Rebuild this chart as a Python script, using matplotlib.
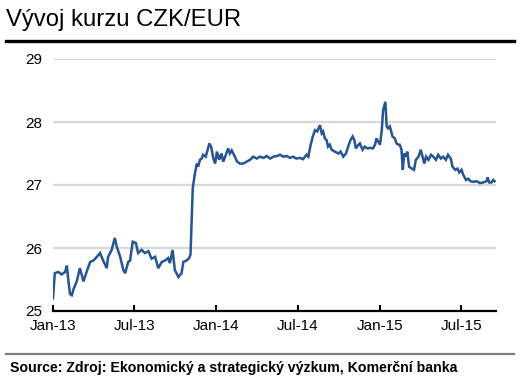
import numpy as np
import pandas as pd
import matplotlib
matplotlib.use("Agg")
import matplotlib.pyplot as plt
import matplotlib.dates as mdates
from matplotlib.lines import Line2D

plt.rcParams['font.family'] = ['Liberation Sans', 'DejaVu Sans']

# Days since 2013-01-01 and CZK/EUR rate
day_offsets = [0, 4, 12, 19, 27, 31, 34, 38, 42, 46, 53, 60, 68, 75, 83, 90, 98, 105,
               112, 120, 123, 131, 138, 142, 150, 157, 161, 168, 172, 178, 185, 190,
               198, 205, 213, 220, 228, 235, 243, 250, 257, 261, 267, 272, 280, 287,
               291, 298, 304, 307,
               312, 317, 321, 324, 328, 332, 335, 341, 349, 353, 358, 362, 366, 371,
               376, 380, 386, 391, 395, 399, 406, 411, 417, 425, 432, 440, 447, 455,
               462, 470, 477, 485, 492, 500, 507, 514, 522,
               529, 536, 543, 551, 558, 566, 570, 575, 580, 585, 590, 596, 600, 603,
               607, 611, 614, 618, 622, 629, 637, 642, 648, 654, 659, 664, 669, 673,
               676, 682, 685, 691, 696, 702, 708, 714, 719, 722, 726, 730, 734, 737,
               742, 745, 748, 752, 758, 763, 767, 771, 774, 778, 781, 784, 788, 791,
               795, 801, 806, 810, 816, 821, 825, 829, 833, 838, 844, 849, 855, 860,
               866, 871, 877, 882, 888, 892, 898, 903, 907, 912, 916, 922, 927, 932,
               938, 946, 953, 960, 968, 970, 974, 979, 983, 986]
rates = [25.20, 25.60, 25.62, 25.58, 25.62, 25.72, 25.50, 25.27, 25.25, 25.35, 25.47,
         25.68, 25.47, 25.62, 25.78, 25.80, 25.86, 25.92, 25.80, 25.68, 25.86, 25.97,
         26.16, 26.03, 25.86, 25.65, 25.60, 25.78, 25.80, 26.10, 26.08, 25.92, 25.97,
         25.92, 25.95, 25.83, 25.86, 25.68, 25.78, 25.80, 25.84, 25.76, 25.97, 25.65,
         25.54, 25.60, 25.78, 25.80, 25.84, 25.90,
         26.95, 27.19, 27.34, 27.29, 27.40, 27.42, 27.48, 27.45, 27.66, 27.61, 27.42,
         27.34, 27.53, 27.40, 27.50, 27.37, 27.48, 27.58, 27.50, 27.55, 27.45, 27.37,
         27.34, 27.34, 27.37, 27.40, 27.45, 27.42, 27.45, 27.43, 27.46, 27.42, 27.45,
         27.46, 27.48, 27.45, 27.46,
         27.43, 27.45, 27.42, 27.43, 27.41, 27.48, 27.45, 27.63, 27.77, 27.87, 27.85,
         27.95, 27.82, 27.85, 27.74, 27.71, 27.61, 27.64, 27.56, 27.53, 27.50, 27.53,
         27.45, 27.50, 27.61, 27.71, 27.77, 27.71, 27.58, 27.64, 27.66, 27.56, 27.61,
         27.58, 27.59, 27.58, 27.64, 27.74, 27.69, 27.64, 27.87, 28.19, 28.32, 27.93,
         27.90, 27.93, 27.77, 27.74, 27.66, 27.64, 27.64, 27.56, 27.24, 27.50, 27.45,
         27.53, 27.29, 27.26, 27.24, 27.40, 27.45, 27.56, 27.45, 27.34, 27.45, 27.40,
         27.48, 27.45, 27.40, 27.48, 27.42, 27.45, 27.40, 27.48, 27.42, 27.29, 27.24,
         27.26, 27.20, 27.24, 27.16, 27.08, 27.10, 27.06, 27.05, 27.06, 27.03, 27.04,
         27.06, 27.12, 27.04, 27.04, 27.08, 27.06]

tick_dates = ['2013-01-01', '2013-07-01', '2014-01-01', '2014-07-01', '2015-01-01', '2015-07-01']
tick_labels = ['Jan-13', 'Jul-13', 'Jan-14', 'Jul-14', 'Jan-15', 'Jul-15']
y_ticks = [25, 26, 27, 28, 29]

start = pd.Timestamp('2013-01-01')
dates = start + pd.to_timedelta(day_offsets, unit='D')

fig = plt.figure(figsize=(5.21, 3.87), dpi=100)
W, H = 521, 387
ax = fig.add_axes([53 / W, 1 - 311 / H, (496 - 53) / W, (311 - 59) / H])

ax.plot(dates, rates, color='#255592', linewidth=1.8, solid_joinstyle='miter', zorder=3)

ax.set_ylim(25, 29)
ax.set_xlim(start, start + pd.Timedelta(days=989))
ax.set_yticks(y_ticks)
ax.set_yticklabels([str(v) for v in y_ticks], fontsize=11)
ax.set_xticks(pd.to_datetime(tick_dates))
ax.set_xticklabels(tick_labels, fontsize=11)

for v in y_ticks[1:]:
    ax.axhline(v, color='#d9d9d9', linewidth=1.6, zorder=1)

for s in ['left', 'right', 'top']:
    ax.spines[s].set_visible(False)
ax.spines['bottom'].set_linewidth(1.6)
ax.spines['bottom'].set_color('black')
ax.tick_params(axis='y', length=0, pad=8)
ax.tick_params(axis='x', direction='in', length=4, width=1.5, pad=6, color='black')

fig.text(6 / W, 1 - 20 / H, 'Vývoj kurzu CZK/EUR', fontsize=17.2, va='center', ha='left', color='black')
fig.add_artist(Line2D([6 / W, 514 / W], [1 - 41 / H, 1 - 41 / H], color='black', linewidth=2.4,
                      transform=fig.transFigure))
fig.add_artist(Line2D([6 / W, 514 / W], [1 - 353.5 / H, 1 - 353.5 / H], color='#808080', linewidth=1.6,
                      transform=fig.transFigure))
fig.text(10 / W, 1 - 368 / H, 'Source: Zdroj: Ekonomický a strategický výzkum, Komerční banka',
         fontsize=10.2, fontweight='bold', va='center', ha='left', color='black')

fig.savefig('out.png', dpi=100)
